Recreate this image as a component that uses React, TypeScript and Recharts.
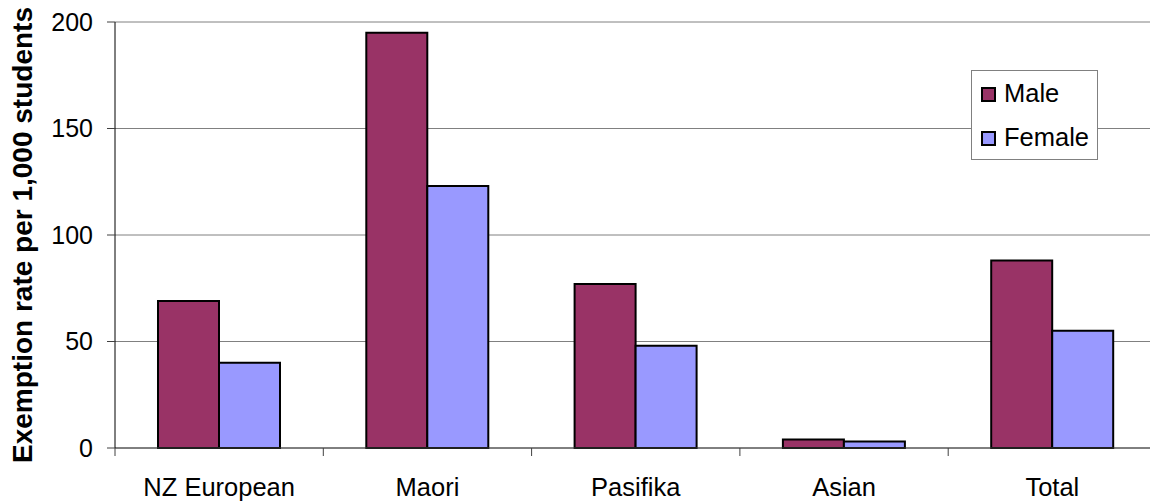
import React from 'react';
import { BarChart, Bar, XAxis, YAxis, CartesianGrid, Legend } from 'recharts';

// Exemption rates per 1,000 students
const categories = ['NZ European', 'Maori', 'Pasifika', 'Asian', 'Total'];
const maleRates = [69, 195, 77, 4, 88];
const femaleRates = [40, 123, 48, 3, 55];
const yTicks = [0, 50, 100, 150, 200];
const seriesNames = ['Male', 'Female'];

const seriesColors: { [key: string]: string } = {
  Male: '#993366',
  Female: '#9999FF',
};

const chartData = categories.map((name, i) => ({
  name,
  Male: maleRates[i],
  Female: femaleRates[i],
}));

const FONT = '"Liberation Sans", Arial, sans-serif';

// Category label plus tick marks at the category boundaries (Excel style)
const CategoryTick = (props: any) => {
  const { x, y, payload, index, visibleTicksCount } = props;
  const half = payload && payload.offset ? payload.offset : 0;
  const last = index === visibleTicksCount - 1;
  return (
    <g>
      <line x1={x - half} x2={x - half} y1={y} y2={y + 8} stroke="#404040" />
      {last && <line x1={x + half} x2={x + half} y1={y} y2={y + 8} stroke="#404040" />}
      <text
        x={x}
        y={y + 48}
        textAnchor="middle"
        fontSize={25.5}
        fill="#000"
        fontFamily={FONT}
      >
        {payload.value}
      </text>
    </g>
  );
};

const BoxLegend = (props: any) => {
  const items = ((props.payload || []) as any[])
    .slice()
    .sort((a, b) => seriesNames.indexOf(a.value) - seriesNames.indexOf(b.value));
  return (
    <div
      style={{
        boxSizing: 'border-box',
        width: 127,
        height: 90,
        border: '1px solid #808080',
        background: '#fff',
        paddingTop: 1,
        fontFamily: FONT,
      }}
    >
      {items.map((item) => (
        <div
          key={item.value}
          style={{ height: 44, display: 'flex', alignItems: 'center', paddingLeft: 9 }}
        >
          <span
            style={{
              boxSizing: 'border-box',
              display: 'inline-block',
              width: 15,
              height: 15,
              border: '2px solid #000',
              backgroundColor: seriesColors[item.value],
              marginRight: 8,
            }}
          />
          <span style={{ fontSize: 25.5, color: '#000', lineHeight: 1 }}>{item.value}</span>
        </div>
      ))}
    </div>
  );
};

const App: React.FC = () => {
  return (
    <div
      style={{
        position: 'absolute',
        left: 0,
        top: 0,
        width: 1150,
        height: 501,
        overflow: 'hidden',
        background: '#fff',
      }}
    >
      <BarChart
        width={1160}
        height={501}
        data={chartData}
        margin={{ top: 22, right: 3.5, left: 0, bottom: 0 }}
        barGap={0}
        barSize={61}
      >
        <CartesianGrid vertical={false} stroke="#808080" />
        <XAxis
          dataKey="name"
          height={53}
          axisLine={{ stroke: '#404040' }}
          tickLine={false}
          tickSize={0}
          tickMargin={0}
          interval={0}
          tick={<CategoryTick />}
        />
        <YAxis
          width={115}
          domain={[0, 200]}
          ticks={yTicks}
          interval={0}
          tickSize={8}
          tickMargin={14}
          axisLine={{ stroke: '#000' }}
          tickLine={{ stroke: '#404040' }}
          tick={{ fontSize: 25, fill: '#000', fontFamily: FONT }}
          label={{
            value: 'Exemption rate per 1,000 students',
            angle: -90,
            position: 'insideLeft',
            offset: 0,
            dx: 22,
            style: {
              textAnchor: 'middle',
              fontSize: 28,
              fontWeight: 'bold',
              fill: '#000',
              fontFamily: FONT,
            },
          }}
        />
        <Legend
          layout="vertical"
          align="center"
          verticalAlign="middle"
          wrapperStyle={{ left: 971, top: 70, width: 127, height: 90 }}
          content={<BoxLegend />}
        />
        <Bar
          dataKey="Male"
          fill={seriesColors.Male}
          stroke="#000"
          strokeWidth={2}
          isAnimationActive={false}
        />
        <Bar
          dataKey="Female"
          fill={seriesColors.Female}
          stroke="#000"
          strokeWidth={2}
          isAnimationActive={false}
        />
      </BarChart>
    </div>
  );
};

export default App;
